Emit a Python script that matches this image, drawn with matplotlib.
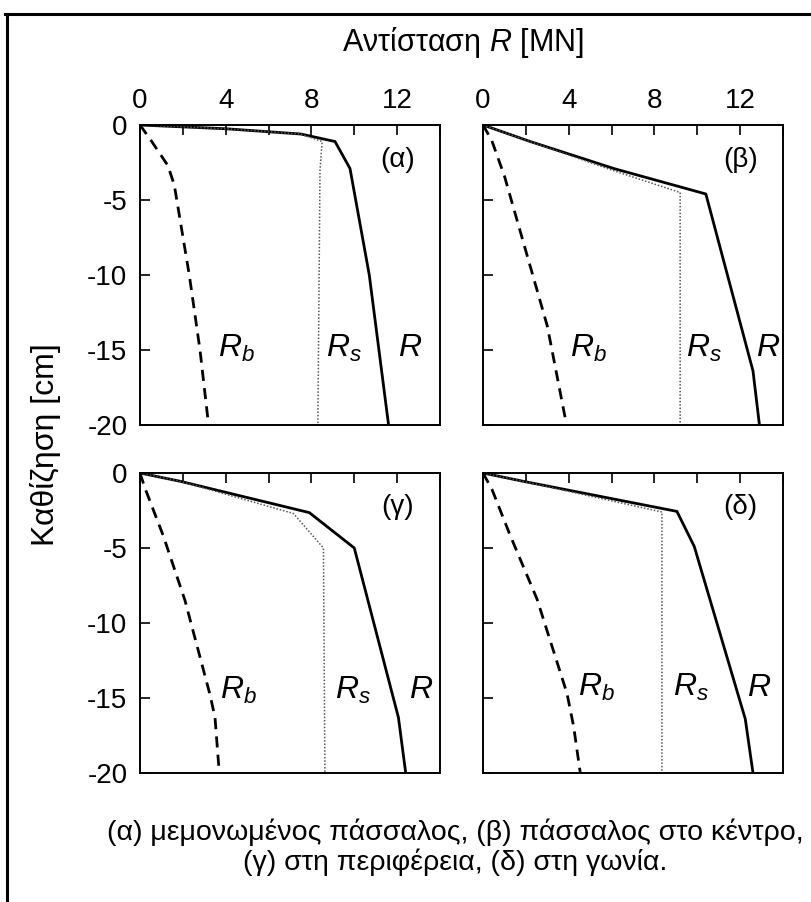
import matplotlib.pyplot as plt
from matplotlib.lines import Line2D

plt.rcParams['font.family'] = ['Liberation Sans', 'DejaVu Sans']
plt.rcParams['axes.unicode_minus'] = False
plt.rcParams['mathtext.fontset'] = 'custom'
plt.rcParams['mathtext.it'] = 'Liberation Sans:italic'
plt.rcParams['mathtext.rm'] = 'Liberation Sans'

# (α) isolated pile
a_R_x = [0, 4, 7.5, 9.1, 9.8, 10.7, 11.6]
a_R_y = [0, -0.25, -0.6, -1.1, -2.9, -10, -20]
a_Rs_x = [0, 4, 7.5, 8.5, 8.4, 8.3]
a_Rs_y = [0, -0.25, -0.6, -1.1, -3, -20]
a_Rb_x = [0, 0.5, 1.3, 1.6, 2.3, 2.8, 3.2]
a_Rb_y = [0, -1, -2.7, -4, -10, -15, -20]

# (β) centre pile
b_R_x = [0, 2.2, 6.1, 10.4, 12.6, 12.9]
b_R_y = [0, -1.1, -2.9, -4.6, -16.4, -20]
b_Rs_x = [0, 2.2, 6.0, 9.2, 9.2]
b_Rs_y = [0, -1.1, -3.0, -4.5, -20]
b_Rb_x = [0, 0.4, 1.0, 1.9, 3.0, 3.9]
b_Rb_y = [0, -1, -3.4, -7.9, -13.4, -20]

# (γ) perimeter pile
c_R_x = [0, 1.9, 7.9, 10.0, 12.06, 12.4]
c_R_y = [0, -0.56, -2.64, -5.0, -16.3, -20]
c_Rs_x = [0, 1.9, 7.16, 8.56, 8.63]
c_Rs_y = [0, -0.56, -2.7, -5.0, -20]
c_Rb_x = [0, 0.23, 1.09, 2.1, 3.27, 3.5, 3.7]
c_Rb_y = [0, -1, -4.2, -8.5, -14.8, -16.3, -20]

# (δ) corner pile
d_R_x = [0, 1.9, 9.05, 9.86, 12.24, 12.6]
d_R_y = [0, -0.56, -2.56, -4.9, -16.4, -20]
d_Rs_x = [0, 1.9, 8.35, 8.35]
d_Rs_y = [0, -0.56, -2.6, -20]
d_Rb_x = [0, 0.42, 1.28, 2.52, 3.92, 4.23, 4.54]
d_Rb_y = [0, -1.1, -4.2, -8.4, -14.7, -16.9, -20]

panel_names = ['(α)', '(β)', '(γ)', '(δ)']
label_x = [[4.5, 9.5, 12.6], [4.9, 10.3, 13.3], [4.6, 9.95, 13.1], [5.3, 9.7, 12.9]]
label_y = [-14.9, -14.9, -14.5, -14.3]

data = [
    (a_R_x, a_R_y, a_Rs_x, a_Rs_y, a_Rb_x, a_Rb_y),
    (b_R_x, b_R_y, b_Rs_x, b_Rs_y, b_Rb_x, b_Rb_y),
    (c_R_x, c_R_y, c_Rs_x, c_Rs_y, c_Rb_x, c_Rb_y),
    (d_R_x, d_R_y, d_Rs_x, d_Rs_y, d_Rb_x, d_Rb_y),
]

W, H = 812, 902
fig = plt.figure(figsize=(W / 100, H / 100), dpi=100)

# axes boxes in pixels: left, top
boxes = [(140, 125), (483, 125), (140, 473), (483, 473)]
size = 300

for i, (left, top) in enumerate(boxes):
    ax = fig.add_axes([left / W, 1 - (top + size) / H, size / W, size / H])
    Rx, Ry, Rsx, Rsy, Rbx, Rby = data[i]
    ax.plot(Rx, Ry, color='black', lw=2.0)
    ax.plot(Rsx, Rsy, color='#555555', lw=1.1, linestyle=(0, (1, 1.2)))
    ax.plot(Rbx, Rby, color='black', lw=2.0, linestyle=(0, (4, 2.6)))
    ax.set_xlim(0, 14)
    ax.set_ylim(-20, 0)
    ax.set_xticks(range(0, 15, 2))
    ax.set_xticklabels(['0', '', '4', '', '8', '', '12', ''])
    ax.set_yticks([0, -5, -10, -15, -20])
    ax.tick_params(direction='in', length=7, width=1.2, top=True, bottom=False,
                   labeltop=(i < 2), labelbottom=False, labelleft=(i % 2 == 0),
                   labelsize=20, pad=9)
    ax.tick_params(axis='x', pad=8)
    for s in ax.spines.values():
        s.set_linewidth(1.4)
    ax.text(12.0, -2.3, panel_names[i], fontsize=20, ha='center', va='center')
    lx = label_x[i]
    ax.text(lx[0], label_y[i], r'$R_b$', fontsize=23, ha='center', va='center')
    ax.text(lx[1], label_y[i], r'$R_s$', fontsize=23, ha='center', va='center')
    ax.text(lx[2], label_y[i], r'$R$', fontsize=23, ha='center', va='center')

fig.text(463 / W, 1 - 43 / H, 'Αντίσταση $R$ [MN]', fontsize=22, ha='center', va='center')
fig.text(46 / W, 1 - 445 / H, 'Καθίζηση [cm]', fontsize=23, rotation=90,
         ha='center', va='center')
fig.text(455 / W, 1 - 832 / H, '(α) μεμονωμένος πάσσαλος, (β) πάσσαλος στο κέντρο,',
         fontsize=20.5, ha='center', va='center')
fig.text(455 / W, 1 - 862 / H, '(γ) στη περιφέρεια, (δ) στη γωνία.',
         fontsize=20.5, ha='center', va='center')

# outer frame (left and top edges visible)
fig.add_artist(Line2D([6.5 / W, 6.5 / W], [0, 1 - 14 / H], transform=fig.transFigure,
                      color='black', lw=2.2))
fig.add_artist(Line2D([5 / W, 1], [1 - 14 / H, 1 - 14 / H], transform=fig.transFigure,
                      color='black', lw=2.2))

fig.savefig('out.png', dpi=100)
